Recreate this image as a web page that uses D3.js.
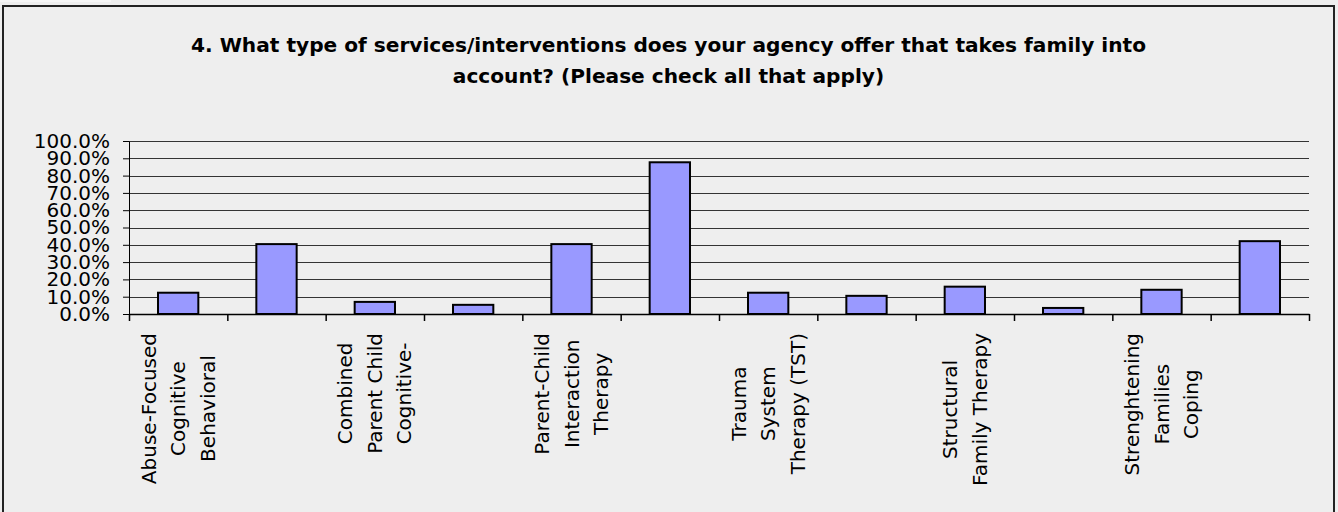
<!DOCTYPE html>
<html>
<head>
<meta charset="utf-8">
<script src="https://cdn.jsdelivr.net/npm/d3@7"></script>
<style>
  body { margin: 0; background: #eeeeee; }
  svg { display: block; font-family: "DejaVu Sans", Verdana, sans-serif; }
</style>
</head>
<body>
<div id="chart"></div>
<script>
// chart data
var titleLines = [
    "4. What type of services/interventions does your agency offer that takes family into",
    "account? (Please check all that apply)"
];
// only every other category label is shown in the original
var categoryLabels = [
    ["Abuse-Focused", "Cognitive", "Behavioral"], [],
    ["Combined", "Parent Child", "Cognitive-"], [],
    ["Parent-Child", "Interaction", "Therapy"], [],
    ["Trauma", "System", "Therapy (TST)"], [],
    ["Structural", "Family Therapy"], [],
    ["Strenghtening", "Families", "Coping"], []
];
var values = [0.123, 0.404, 0.070, 0.053, 0.404, 0.877, 0.123, 0.105, 0.158, 0.035, 0.140, 0.421];
var yTickValues = [0, 0.1, 0.2, 0.3, 0.4, 0.5, 0.6, 0.7, 0.8, 0.9, 1.0];

var W = 1338, H = 512;
var plot = { left: 129, right: 1309, top: 141, bottom: 314 };

var svg = d3.select('#chart').append('svg')
    .attr('width', W)
    .attr('height', H);

svg.append('rect')
    .attr('width', W).attr('height', H)
    .attr('fill', '#eeeeee');
svg.append('rect')
    .attr('x', 0).attr('y', 0).attr('width', 111).attr('height', 2)
    .attr('fill', '#f6f6f6');

// frame
svg.append('rect')
    .attr('x', 3).attr('y', 6)
    .attr('width', 1331).attr('height', 520)
    .attr('fill', '#eeeeee')
    .attr('stroke', '#222')
    .attr('stroke-width', 2);

// title - squeeze the wide font to the original line width
var title = svg.append('text')
    .attr('text-anchor', 'middle')
    .style('font-weight', 'bold')
    .style('font-size', '19px')
    .attr('fill', '#000');
var tspans = title.selectAll('tspan')
    .data(titleLines)
    .enter().append('tspan')
    .attr('x', 668.5)
    .attr('y', function (d, i) { return 52 + i * 31; })
    .text(function (d) { return d; });
var ratio = 955 / tspans.node().getComputedTextLength();
tspans.each(function () {
    var l = this.getComputedTextLength();
    d3.select(this)
        .attr('textLength', l * ratio)
        .attr('lengthAdjust', 'spacingAndGlyphs');
});

// scales
var x = d3.scaleBand()
    .domain(d3.range(values.length))
    .range([plot.left, plot.right])
    .padding(0);
var y = d3.scaleLinear()
    .domain([0, 1])
    .range([plot.bottom, plot.top]);

// gridlines
svg.append('g')
    .attr('class', 'grid')
    .selectAll('line')
    .data(yTickValues.slice(1))
    .enter().append('line')
    .attr('x1', plot.left).attr('x2', plot.right)
    .attr('y1', function (d) { return Math.round(y(d)) + 0.5; })
    .attr('y2', function (d) { return Math.round(y(d)) + 0.5; })
    .attr('stroke', '#333')
    .attr('stroke-width', 1);

// bars
var barW = x.bandwidth() * 0.41;
svg.selectAll('.bar')
    .data(values)
    .enter().append('rect')
    .attr('class', 'bar')
    .attr('x', function (d, i) { return x(i) + (x.bandwidth() - barW) / 2; })
    .attr('y', function (d) { return y(d); })
    .attr('width', barW)
    .attr('height', function (d) { return plot.bottom - y(d); })
    .attr('fill', '#9999ff')
    .attr('stroke', '#000')
    .attr('stroke-width', 2);

// y axis
var yAxis = d3.axisLeft(y)
    .tickValues(yTickValues)
    .tickFormat(d3.format('.1%'))
    .tickSizeInner(6)
    .tickSizeOuter(0)
    .tickPadding(13);
var gy = svg.append('g')
    .attr('transform', 'translate(' + plot.left + ',0)')
    .call(yAxis);
gy.selectAll('text')
    .style('font-family', '"DejaVu Sans", Verdana, sans-serif')
    .style('font-size', '20px')
    .attr('fill', '#000');
gy.selectAll('line, path').attr('stroke', '#000');

// x axis: tick marks on category boundaries
var xb = d3.scaleLinear().domain([0, values.length]).range([plot.left, plot.right]);
var xAxis = d3.axisBottom(xb)
    .tickValues(d3.range(values.length + 1))
    .tickFormat('')
    .tickSizeInner(7)
    .tickSizeOuter(0);
var gx = svg.append('g')
    .attr('transform', 'translate(0,' + plot.bottom + ')')
    .call(xAxis);
gx.selectAll('line, path').attr('stroke', '#000').attr('stroke-width', 1.5);

// category labels, rotated, lines centred on the longest one
var lineGap = 29.5;
categoryLabels.forEach(function (lines, i) {
    if (!lines.length) return;
    var cx = x(i) + x.bandwidth() / 2;
    var g = svg.append('g');
    var texts = g.selectAll('text')
        .data(lines)
        .enter().append('text')
        .style('font-size', '20px')
        .attr('fill', '#000')
        .attr('text-anchor', 'middle')
        .attr('dy', '0.35em')
        .text(function (d) { return d; });
    var maxLen = d3.max(texts.nodes(), function (n) { return n.getComputedTextLength(); });
    var cy = 333 + maxLen / 2;
    texts.attr('transform', function (d, k) {
        var lx = cx + (k - (lines.length - 1) / 2) * lineGap;
        return 'translate(' + lx + ',' + cy + ') rotate(-90)';
    });
});
</script>
</body>
</html>
